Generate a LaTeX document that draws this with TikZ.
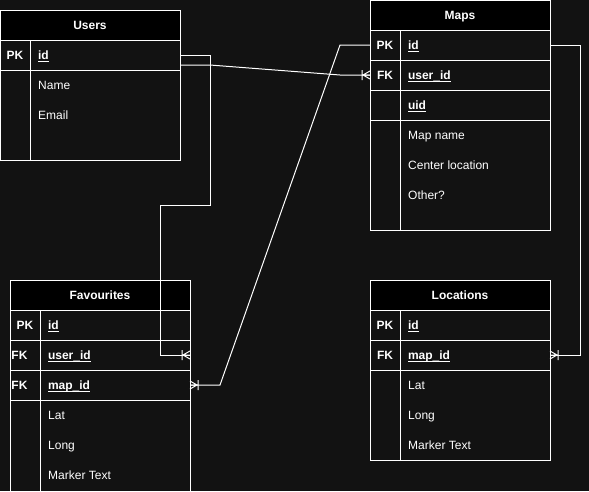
\documentclass[tikz,border=0pt]{standalone}
\usepackage{fontspec}
\setmainfont{Liberation Sans}
\usetikzlibrary{calc}
\definecolor{bgc}{HTML}{121212}
\newcommand\ulx[1]{\setbox0\hbox{#1}\rlap{\rule[-2.4pt]{\wd0}{0.9pt}}\box0}
\begin{document}
\begin{tikzpicture}[x=1pt,y=-1pt,
 every node/.style={text=white, font=\fontsize{12pt}{14pt}\selectfont},
 cell/.style={draw=white, line width=1pt, inner sep=0pt, outer sep=0pt, anchor=north west, minimum height=30pt, text height=8.6pt, text depth=0pt},
 hdr/.style={cell, fill=black, minimum width=180pt, font=\fontsize{12pt}{14pt}\selectfont\bfseries},
 key/.style={cell, minimum width=30pt, font=\fontsize{12pt}{14pt}\selectfont\bfseries},
 keyl/.style={key, text width=27pt, inner xsep=1.5pt, align=left},
 fld/.style={cell, minimum width=150pt, text width=134pt, inner xsep=8pt, align=left, font=\fontsize{12pt}{14pt}\selectfont\bfseries},
 item/.style={anchor=west, inner sep=0pt, text height=8.6pt, text depth=0pt},
 link/.style={draw=white, line width=1pt},
 crow/.pic={\draw[link] (0,-4)--(7,0)--(0,4) (0,0)--(7,0) (8,-5)--(8,5);}
]
\fill[bgc] (0,0) rectangle (589,491);
\useasboundingbox (0,0) rectangle (589,491);
\clip (0,0) rectangle (589,491);

% Users
\node[hdr] (u-h) at (0,10) {Users};
\node[key] (u-k1) at (0,40) {PK};
\node[fld] (u-id) at (30,40) {\ulx{id}};
\node[key, minimum height=90pt] (u-k2) at (0,70) {};
\node[fld, minimum height=90pt] (u-rest) at (30,70) {};
\node[item] (u-name) at (38,85) {Name};
\node[item] (u-email) at (38,115) {Email};

% Maps
\node[hdr] (m-h) at (370,0) {Maps};
\node[key] (m-k1) at (370,30) {PK};
\node[fld] (m-id) at (400,30) {\ulx{id}};
\node[key] (m-k2) at (370,60) {FK};
\node[fld] (m-uid) at (400,60) {\ulx{user\_id}};
\node[key] (m-k3) at (370,90) {};
\node[fld] (m-uuid) at (400,90) {\ulx{uid}};
\node[key, minimum height=110pt] (m-k4) at (370,120) {};
\node[fld, minimum height=110pt] (m-rest) at (400,120) {};
\node[item] (m-name) at (408,135) {Map name};
\node[item] (m-center) at (408,165) {Center location};
\node[item] (m-other) at (408,195) {Other?};

% Favourites
\node[hdr] (f-h) at (10,280) {Favourites};
\node[key] (f-k1) at (10,310) {PK};
\node[fld] (f-id) at (40,310) {\ulx{id}};
\node[keyl] (f-k2) at (10,340) {FK};
\node[fld] (f-uid) at (40,340) {\ulx{user\_id}};
\node[keyl] (f-k3) at (10,370) {FK};
\node[fld] (f-mid) at (40,370) {\ulx{map\_id}};
\node[key, minimum height=100pt] (f-k4) at (10,400) {};
\node[fld, minimum height=100pt] (f-rest) at (40,400) {};
\node[item] (f-lat) at (48,415) {Lat};
\node[item] (f-long) at (48,445) {Long};
\node[item] (f-text) at (48,475) {Marker Text};

% Locations
\node[hdr] (l-h) at (370,280) {Locations};
\node[key] (l-k1) at (370,310) {PK};
\node[fld] (l-id) at (400,310) {\ulx{id}};
\node[key] (l-k2) at (370,340) {FK};
\node[fld] (l-mid) at (400,340) {\ulx{map\_id}};
\node[key, minimum height=90pt] (l-k3) at (370,370) {};
\node[fld, minimum height=90pt] (l-rest) at (400,370) {};
\node[item] (l-lat) at (408,385) {Lat};
\node[item] (l-long) at (408,415) {Long};
\node[item] (l-text) at (408,445) {Marker Text};

% Connectors
\draw[link] ($(u-id.east)+(0,10)$) -- ++(30,0) -- ($(m-k2.west)+(-30,0)$) -- (m-k2.west);
\draw[link] (u-id.east) -- ++(30,0) -- ++(0,150) -- ++(-50,0) |- (f-uid.east);
\draw[link] (m-k1.west) -- ++(-30,0) -- ($(f-mid.east)+(30,0)$) -- (f-mid.east);
\draw[link] (m-id.east) -- ++(30,0) |- (l-mid.east);

\pic[xscale=-1] at (m-k2.west) {crow};
\pic[xscale=-1] at (f-uid.east) {crow};
\pic at (f-mid.east) {crow};
\pic at (l-mid.east) {crow};
\end{tikzpicture}
\end{document}
